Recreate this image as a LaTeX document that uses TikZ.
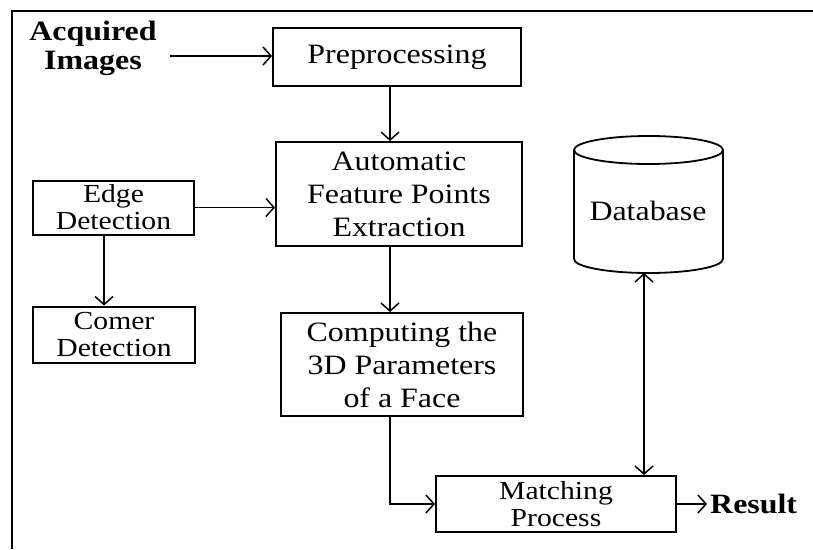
\documentclass[tikz,border=0pt]{standalone}
\usepackage{fontspec}
\setmainfont{Liberation Serif}[FakeStretch=1.14]
\usetikzlibrary{arrows.meta}
\begin{document}
\begin{tikzpicture}[x=1pt,y=-1pt,
  txt/.style={font=\fontsize{28}{33}\selectfont, align=center, inner sep=0pt},
  tight/.style={font=\fontsize{26}{27}\selectfont},
  box/.style={txt, draw, line width=2pt},
  bold/.style={font=\fontsize{28}{29}\selectfont\bfseries, align=center, inner sep=0pt},
  barb/.tip={Straight Barb[length=8pt,width=18pt,line width=1.5pt]},
  arr/.style={line width=1.8pt, -barb},
  arrtwo/.style={line width=1.8pt, barb-barb},
  cyl/.style={line width=1.8pt}]
\useasboundingbox (0,0) rectangle (813,549);
\draw[line width=2.8pt] (12,549) -- (12,11) -- (813,11);

% nodes
\node[bold] (acq) at (93,48) {Acquired\\Images};
\node[box, minimum width=248, minimum height=58] (pre) at (397,57) {Preprocessing};
\node[box, minimum width=246, minimum height=104] (auto) at (399,194) {Automatic\\Feature Points\\Extraction};
\node[box, tight, minimum width=161, minimum height=54] (edge) at (113.5,207.5) {Edge\\Detection};
\node[box, tight, minimum width=162, minimum height=56] (corner) at (114,334.5) {Comer\\Detection};
\node[box, minimum width=242, minimum height=103] (comp) at (402,364.5) {Computing the\\3D Parameters\\of a Face};
\node[box, tight, minimum width=240, minimum height=56] (match) at (556,504) {Matching\\Process};
\node[bold, anchor=west] (res) at (710,504) {Result};

% database cylinder
\draw[cyl] (648.5,150) ellipse [x radius=74.5, y radius=14];
\draw[cyl] (574,150) -- (574,259) arc[start angle=180, end angle=0, x radius=74.5, y radius=14] -- (723,150);
\node[txt] (db) at (648,211) {Database};

% helper coordinates
\coordinate (a0) at (170,56);
\coordinate (cx) at (390,0);
\coordinate (ex) at (104,0);
\coordinate (dbb) at (644,273);

% connectors
\draw[arr] (a0) -- (a0 -| pre.west);
\draw[arr] (pre.south -| cx) -- (auto.north -| cx);
\draw[arr] (edge.east) -- (edge.east -| auto.west);
\draw[arr] (edge.south -| ex) -- (corner.north -| ex);
\draw[arr] (auto.south -| cx) -- (comp.north -| cx);
\draw[arr] (comp.south -| cx) |- (match.west);
\draw[arrtwo] (match.north -| dbb) -- (dbb);
\draw[arr] (match.east) -- ([xshift=-3pt]res.west);
\end{tikzpicture}
\end{document}
